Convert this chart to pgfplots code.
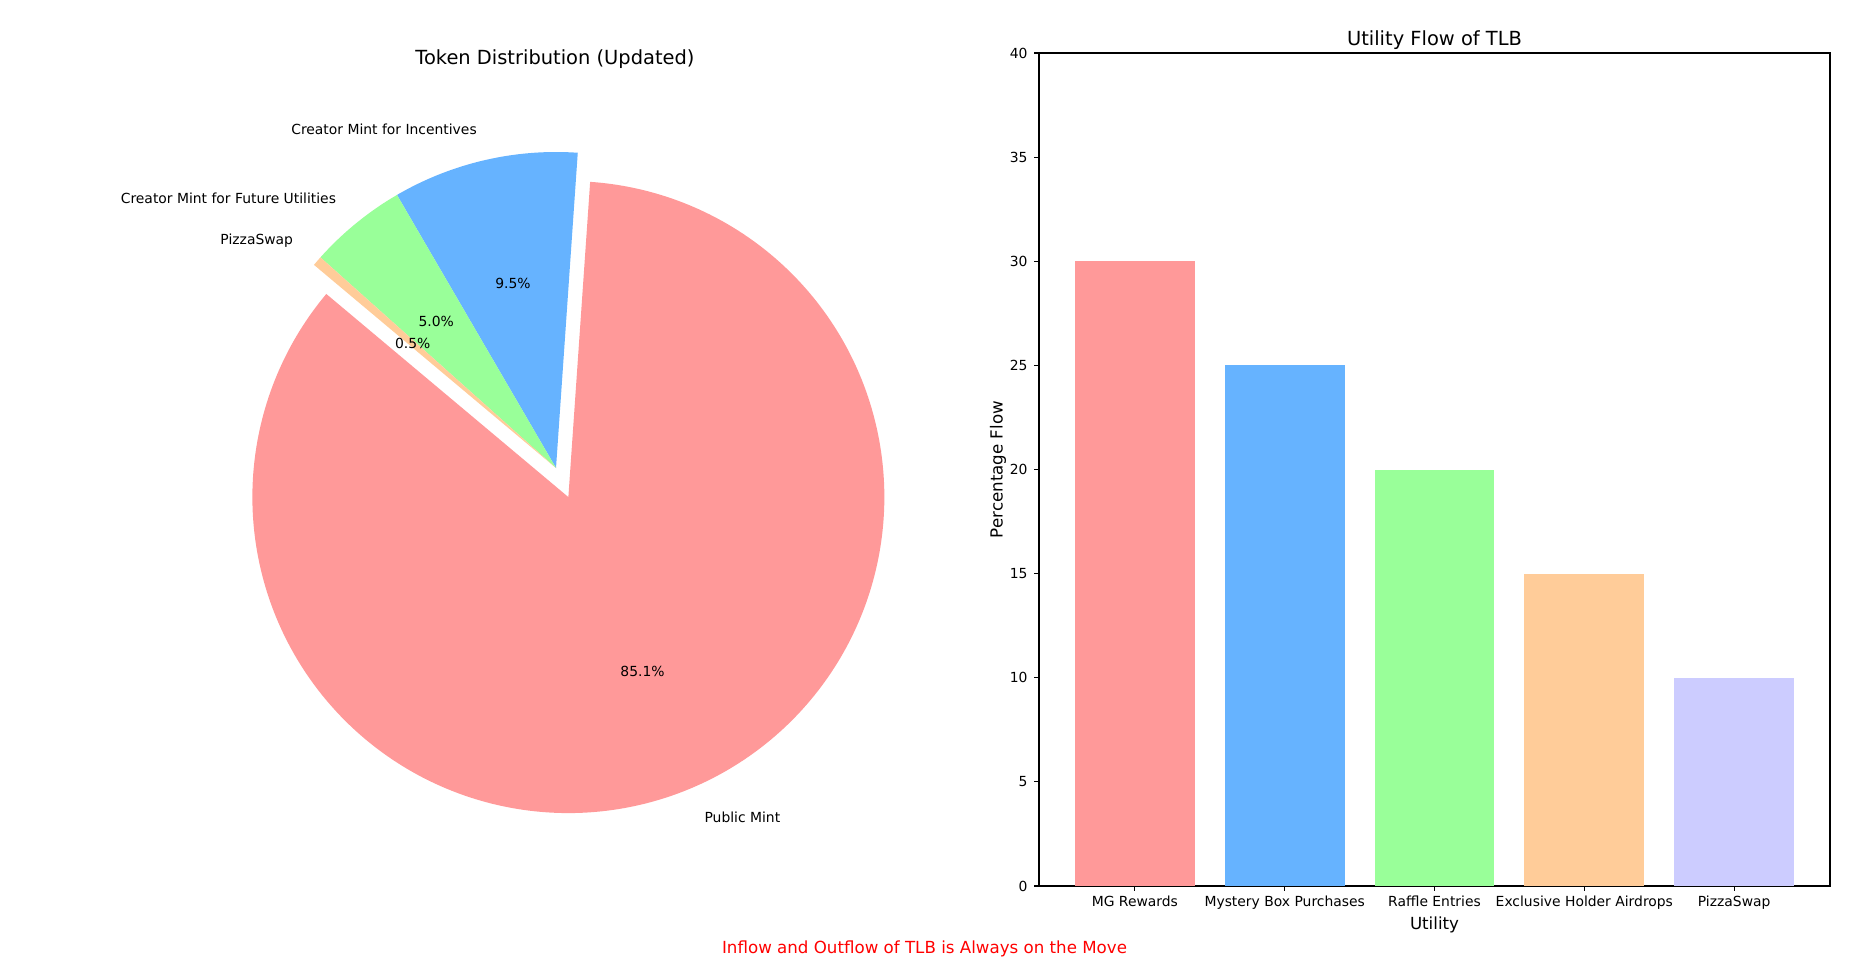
\documentclass[border=0pt]{standalone}
\usepackage{fontspec}
\setmainfont{DejaVu Sans}
\usepackage{pgfplots}
\usepackage{pgfplotstable}
\pgfplotsset{compat=1.18}

\definecolor{cA}{HTML}{FF9999}
\definecolor{cB}{HTML}{66B3FF}
\definecolor{cC}{HTML}{99FF99}
\definecolor{cD}{HTML}{FFCC99}
\definecolor{cE}{HTML}{CCCCFF}

\pgfplotstableread[col sep=comma]{
label,value
Public Mint,85.1
Creator Mint for Incentives,9.5
Creator Mint for Future Utilities,5.0
PizzaSwap,0.5
}\piedata

\pgfplotstablegetelem{0}{value}\of\piedata \edef\vA{\pgfplotsretval}
\pgfplotstablegetelem{1}{value}\of\piedata \edef\vB{\pgfplotsretval}
\pgfplotstablegetelem{2}{value}\of\piedata \edef\vC{\pgfplotsretval}
\pgfplotstablegetelem{3}{value}\of\piedata \edef\vD{\pgfplotsretval}
\pgfplotstablegetelem{0}{label}\of\piedata \edef\lA{\pgfplotsretval}
\pgfplotstablegetelem{1}{label}\of\piedata \edef\lB{\pgfplotsretval}
\pgfplotstablegetelem{2}{label}\of\piedata \edef\lC{\pgfplotsretval}
\pgfplotstablegetelem{3}{label}\of\piedata \edef\lD{\pgfplotsretval}

% geometry of the pie (in pixel units of the 1850x972 figure, y upward)
\def\R{316}
\def\cx{556}
\def\cy{504}
\pgfmathsetmacro\tot{\vA+\vB+\vC+\vD}
\pgfmathsetmacro\aA{140}
\pgfmathsetmacro\aB{\aA+\vA/\tot*360}
\pgfmathsetmacro\aC{\aB+\vB/\tot*360}
\pgfmathsetmacro\aD{\aC+\vC/\tot*360}
\pgfmathsetmacro\aE{\aD+\vD/\tot*360}
\pgfmathsetmacro\mA{(\aA+\aB)/2}
\pgfmathsetmacro\mB{(\aB+\aC)/2}
\pgfmathsetmacro\mC{(\aC+\aD)/2}
\pgfmathsetmacro\mD{(\aD+\aE)/2}
\pgfmathsetmacro\cxA{\cx+0.1*\R*cos(\mA)}
\pgfmathsetmacro\cyA{\cy+0.1*\R*sin(\mA)}
% label positions
\pgfmathsetmacro\lxA{\cxA+1.1*\R*cos(\mA)}
\pgfmathsetmacro\lyA{\cyA+1.1*\R*sin(\mA)}
\pgfmathsetmacro\lxB{\cx+1.1*\R*cos(\mB)}
\pgfmathsetmacro\lyB{\cy+1.1*\R*sin(\mB)}
\pgfmathsetmacro\lxC{\cx+1.1*\R*cos(\mC)}
\pgfmathsetmacro\lyC{\cy+1.1*\R*sin(\mC)}
\pgfmathsetmacro\lxD{\cx+1.1*\R*cos(\mD)}
\pgfmathsetmacro\lyD{\cy+1.1*\R*sin(\mD)}
\pgfmathsetmacro\pxA{\cxA+0.6*\R*cos(\mA)}
\pgfmathsetmacro\pyA{\cyA+0.6*\R*sin(\mA)}
\pgfmathsetmacro\pxB{\cx+0.6*\R*cos(\mB)}
\pgfmathsetmacro\pyB{\cy+0.6*\R*sin(\mB)}
\pgfmathsetmacro\pxC{\cx+0.6*\R*cos(\mC)}
\pgfmathsetmacro\pyC{\cy+0.6*\R*sin(\mC)}
\pgfmathsetmacro\pxD{\cx+0.6*\R*cos(\mD)}
\pgfmathsetmacro\pyD{\cy+0.6*\R*sin(\mD)}

\begin{document}
\begin{tikzpicture}
\useasboundingbox (0,0) rectangle (1332pt,699.84pt);

% ---------- pie chart (axis in pixel coordinates) ----------
\begin{axis}[
  at={(0,0)}, anchor=south west,
  scale only axis, width=1332pt, height=699.84pt,
  xmin=0, xmax=1850, ymin=0, ymax=972,
  axis lines=none, clip=false,
]
\addplot[draw=none, fill=cA, domain=\aA:\aB, samples=300, variable=\t]
  ({\cxA+\R*cos(\t)},{\cyA+\R*sin(\t)}) -- (axis cs:\cxA,\cyA) -- cycle;
\addplot[draw=none, fill=cB, domain=\aB:\aC, samples=80, variable=\t]
  ({\cx+\R*cos(\t)},{\cy+\R*sin(\t)}) -- (axis cs:\cx,\cy) -- cycle;
\addplot[draw=none, fill=cC, domain=\aC:\aD, samples=60, variable=\t]
  ({\cx+\R*cos(\t)},{\cy+\R*sin(\t)}) -- (axis cs:\cx,\cy) -- cycle;
\addplot[draw=none, fill=cD, domain=\aD:\aE, samples=10, variable=\t]
  ({\cx+\R*cos(\t)},{\cy+\R*sin(\t)}) -- (axis cs:\cx,\cy) -- cycle;

\node[anchor=west, inner sep=0pt] at (axis cs:\lxA,\lyA) {\lA};
\node[anchor=east, inner sep=0pt] at (axis cs:\lxB,\lyB) {\lB};
\node[anchor=east, inner sep=0pt] at (axis cs:\lxC,\lyC) {\lC};
\node[anchor=east, inner sep=0pt] at (axis cs:\lxD,\lyD) {\lD};
\node[inner sep=0pt] at (axis cs:\pxA,\pyA) {85.1\%};
\node[inner sep=0pt] at (axis cs:\pxB,\pyB) {9.5\%};
\node[inner sep=0pt] at (axis cs:\pxC,\pyC) {5.0\%};
\node[inner sep=0pt] at (axis cs:\pxD,\pyD) {0.5\%};

\node[anchor=base, inner sep=0pt, font=\fontsize{14}{16.8}\selectfont]
  at (axis cs:555,907) {Token Distribution (Updated)};
\node[anchor=base, inner sep=0pt, text=red, font=\fontsize{12}{14.4}\selectfont]
  at (axis cs:924.5,18.7) {Inflow and Outflow of TLB is Always on the Move};
\end{axis}

% ---------- bar chart ----------
\begin{axis}[
  at={(748.08pt,61.92pt)}, anchor=south west,
  scale only axis, width=569.52pt, height=599.76pt,
  xmin=-0.64, xmax=4.64, ymin=0, ymax=40,
  xtick={0,1,2,3,4},
  xticklabels={MG Rewards, Mystery Box Purchases, Raffle Entries, Exclusive Holder Airdrops, PizzaSwap},
  ytick={0,5,10,15,20,25,30,35,40},
  tick align=outside, xtick pos=bottom, ytick pos=left,
  major tick length=3.5pt,
  every tick/.style={black, line width=0.8pt},
  axis line style={line width=0.8pt},
  tick label style={font=\fontsize{10}{12}\selectfont},
  /pgf/number format/assume math mode=true,
  xticklabel style={anchor=base, inner sep=0pt, yshift=-10.9pt},
  yticklabel style={anchor=east, inner sep=0pt, xshift=-4.6pt},
  title={Utility Flow of TLB},
  title style={at={(axis description cs:0.5,1)}, anchor=base, inner sep=0pt, yshift=-0.6pt, font=\fontsize{14}{16.8}\selectfont},
  xlabel={Utility},
  xlabel style={at={(axis description cs:0.5,0)}, anchor=base, inner sep=0pt, yshift=-31.2pt, font=\fontsize{12}{14.4}\selectfont},
  ylabel={Percentage Flow},
  ylabel style={at={(axis description cs:-0.0461,0.5)}, anchor=base, inner sep=0pt, font=\fontsize{12}{14.4}\selectfont},
]
\addplot[ybar, bar width=0.8, bar shift=0pt, fill=cA, draw=none] coordinates {(0,30)};
\addplot[ybar, bar width=0.8, bar shift=0pt, fill=cB, draw=none] coordinates {(1,25)};
\addplot[ybar, bar width=0.8, bar shift=0pt, fill=cC, draw=none] coordinates {(2,20)};
\addplot[ybar, bar width=0.8, bar shift=0pt, fill=cD, draw=none] coordinates {(3,15)};
\addplot[ybar, bar width=0.8, bar shift=0pt, fill=cE, draw=none] coordinates {(4,10)};
\end{axis}
\end{tikzpicture}
\end{document}
